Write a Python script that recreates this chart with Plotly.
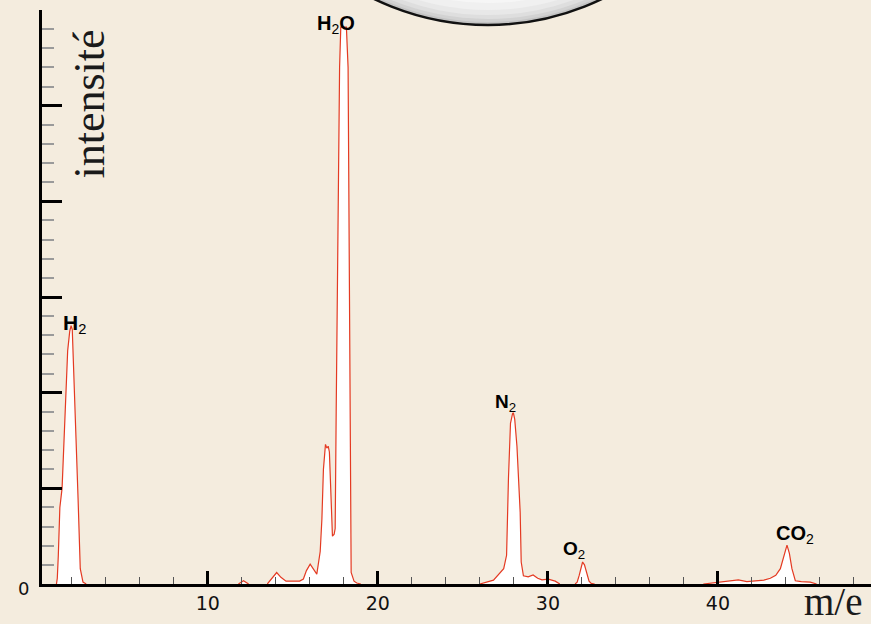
import plotly.graph_objects as go

# ---- data; None separates the visible stretches of the trace ----
mz = [1.1, 1.15, 1.21, 1.3, 1.43, 1.55, 1.65, 1.76, 1.88, 1.96, 2.03, 2.08, 2.17, 2.25, 2.37, 2.5, 2.66, 2.85, None,
      11.8, 12.1, 12.4, None,
      13.5, 13.8, 14.05, 14.3, 14.6, 15.0, 15.4, 15.62, 15.8, 16.02, 16.2, 16.41,
      16.61, 16.71, 16.8, 16.92, 17.0, 17.08, 17.15, 17.24, 17.33, 17.43, 17.49,
      17.55, 17.75, 17.82, 18.0, 18.15, 18.25, 18.4, 18.43, 18.6, 18.76, 19.0, None,
      26.0, 26.8, 27.4, 27.57, 27.68, 27.8, 27.92, 27.97, 28.05, 28.18, 28.37, 28.43, 28.56,
      28.84, 29.13, 29.4, 29.65, 30.02, 30.43, 30.7, None,
      31.6, 31.72, 31.84, 31.95, 32.04, 32.15, 32.3, 32.42, 32.55, 32.75, None,
      39.14, 40.2, 40.8, 41.2, 41.7, 42.3, 42.7, 43.08, 43.4, 43.67, 43.9, 44.06, 44.2, 44.35, 44.55, 44.9, 45.43, 45.8]
intensity = [0.0, 0.3, 1.5, 4.0, 5.0, 7.6, 9.6, 12.2, 13.2, 13.5, 13.3, 12.2, 9.5, 7.6, 4.5, 0.8, 0.1, 0.0, None,
             0.0, 0.17, 0.0, None,
             0.0, 0.3, 0.6, 0.35, 0.15, 0.15, 0.15, 0.26, 0.7, 1.04, 0.8, 0.52,
             1.7, 3.4, 6.0, 7.3, 7.1, 7.2, 6.9, 5.1, 2.5, 2.6, 2.9,
             9.0, 27.0, 29.1, 29.1, 29.1, 27.0, 9.0, 0.6, 0.15, 0.05, 0.0, None,
             0.0, 0.2, 0.8, 1.5, 5.5, 8.4, 8.9, 8.95, 8.6, 7.2, 3.75, 1.15, 0.43,
             0.37, 0.47, 0.3, 0.22, 0.25, 0.15, 0.0, None,
             0.0, 0.1, 0.45, 0.9, 1.15, 1.0, 0.55, 0.15, 0.03, 0.0, None,
             0.0, 0.12, 0.15, 0.21, 0.12, 0.16, 0.2, 0.3, 0.45, 0.8, 1.5, 2.03, 1.6, 0.8, 0.17, 0.12, 0.1, 0.0]

labels = ["<b>H</b><sub>2</sub>", "<b>H</b><sub>2</sub><b>O</b>", "<b>N</b><sub>2</sub>",
          "<b>O</b><sub>2</sub>", "<b>CO</b><sub>2</sub>"]
label_mz = [1.96, 17.97, 27.97, 32.04, 44.06]
label_int = [13.5, 29.1, 8.95, 1.15, 2.03]
x_ticks = [10, 20, 30, 40]
x_tick_text = ["10", "20", "30", "40"]

# ---- styling / layout ----
W, H = 871, 624
L, R, T, B = 42, 0, 10, 40
PW, PH = W - L - R, H - T - B
BG = "#f4ecde"
RED = "#e43a22"

def px2paper(px, py):
    return (px - L) / PW, (H - B - py) / PH

fig = go.Figure()
fig.add_trace(go.Scatter(
    x=mz, y=intensity, mode="lines", connectgaps=False,
    line=dict(color=RED, width=1.2),
    fill="tozeroy", fillcolor="white",
    hoverinfo="skip", showlegend=False,
))

# label offsets (px): xshift, yshift, font size
label_style = [(3, 2, 21), (-7, 3, 20), (-8, 10, 19), (-9, 12, 19), (8, 11, 20)]
for txt, xm, yi, (dx, dy, fs) in zip(labels, label_mz, label_int, label_style):
    fig.add_annotation(x=xm, y=yi, xref="x", yref="y", text=txt,
                       showarrow=False, xanchor="center", yanchor="middle",
                       xshift=dx, yshift=dy,
                       font=dict(family="Liberation Sans, Arial", size=fs, color="black"))

# axis titles as free text
ix, iy = px2paper(89, 104.5)
fig.add_annotation(x=ix, y=iy, xref="paper", yref="paper", text="intensité", textangle=-90,
                   showarrow=False, xanchor="center", yanchor="middle",
                   font=dict(family="Liberation Serif, Times New Roman", size=44, color="#1a1a1a"))
mx, my = px2paper(832.5, 601)
fig.add_annotation(x=mx, y=my, xref="paper", yref="paper", text="m/e",
                   showarrow=False, xanchor="center", yanchor="middle",
                   font=dict(family="Liberation Serif, Times New Roman", size=39, color="#1a1a1a"))
zx, zy = px2paper(23, 588)
fig.add_annotation(x=zx, y=zy, xref="paper", yref="paper", text="0",
                   showarrow=False, xanchor="center", yanchor="middle",
                   font=dict(family="DejaVu Sans", size=18, color="#111"))

# grey sphere at top (layered circles for a soft gradient)
cx, cy, r = 488, -237, 262
rings = [(0, "#c4c4c4"), (3, "#d2d2d2"), (6, "#dedede"), (10, "#e8e8e8"), (15, "#f0f0f0"), (22, "#f6f6f6"), (32, "#fbfbfb")]
for i, (dr, col) in enumerate(rings):
    rr = r - dr
    x0, y1 = px2paper(cx - rr, cy - rr)
    x1, y0 = px2paper(cx + rr, cy + rr)
    fig.add_shape(type="circle", xref="paper", yref="paper", x0=x0, x1=x1, y0=y0, y1=y1,
                  fillcolor=col, line=dict(color="#111" if i == 0 else col, width=2.5 if i == 0 else 0),
                  layer="above")

fig.update_layout(
    width=W, height=H, margin=dict(l=L, r=R, t=T, b=B),
    paper_bgcolor=BG, plot_bgcolor=BG,
    xaxis=dict(range=[0.25, 49.0], showgrid=False, zeroline=False,
               showline=True, linecolor="black", linewidth=3,
               tickmode="array", tickvals=x_ticks, ticktext=x_tick_text,
               ticks="inside", ticklen=13, tickwidth=3, tickcolor="black",
               tickfont=dict(family="DejaVu Sans", size=19, color="#111"),
               minor=dict(dtick=2, tick0=0, ticks="inside", ticklen=7, tickwidth=1, tickcolor="#555")),
    yaxis=dict(range=[0, 30], showgrid=False, zeroline=False,
               showline=True, linecolor="black", linewidth=3,
               tickmode="array", tickvals=[5, 10, 15, 20, 25, 30], showticklabels=False,
               ticks="inside", ticklen=20, tickwidth=3, tickcolor="black",
               minor=dict(dtick=1, tick0=0, ticks="inside", ticklen=12, tickwidth=1.5, tickcolor="#9a9a9a")),
)

fig.write_html("out.html")
